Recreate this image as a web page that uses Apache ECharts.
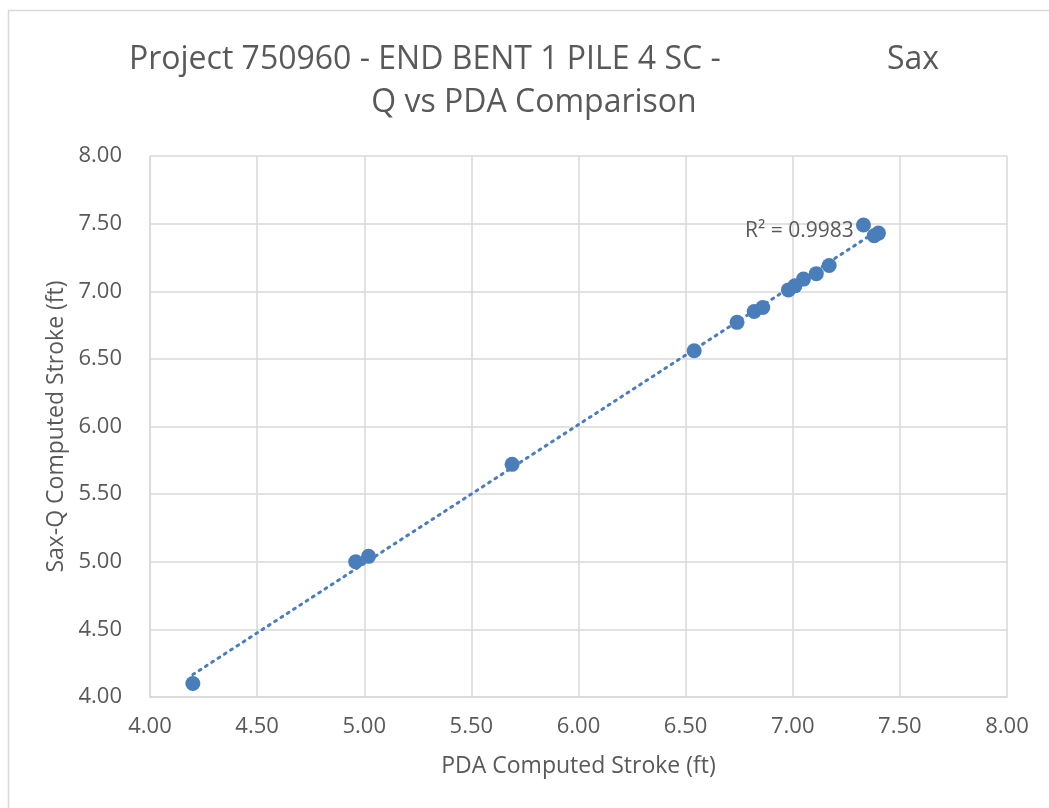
<!DOCTYPE html>
<html><head><meta charset="utf-8">
<script src="https://cdn.jsdelivr.net/npm/echarts@6/dist/echarts.min.js"></script>
<style>html,body{margin:0;padding:0;background:#fff}#c{width:1049px;height:808px}</style>
</head><body><div id="c"></div>
<script>
const pdaStroke = [4.20, 4.96, 5.02, 5.69, 6.54, 6.74, 6.82, 6.86, 6.98, 7.01, 7.05, 7.11, 7.17, 7.33, 7.38, 7.40];
const saxqStroke = [4.10, 5.00, 5.04, 5.72, 6.56, 6.77, 6.85, 6.88, 7.01, 7.04, 7.09, 7.13, 7.19, 7.49, 7.41, 7.43];
const axisTicks = ['4.00','4.50','5.00','5.50','6.00','6.50','7.00','7.50','8.00'];
const titleLine1 = 'Project 750960 - END BENT 1 PILE 4 SC -                    Sax';
const titleLine2 = 'Q vs PDA Comparison';
const r2Text = 'R² = 0.9983';

// linear least-squares trendline from the data
const n = pdaStroke.length;
let sx=0, sy=0, sxx=0, sxy=0;
for (let i=0;i<n;i++){ sx+=pdaStroke[i]; sy+=saxqStroke[i]; sxx+=pdaStroke[i]*pdaStroke[i]; sxy+=pdaStroke[i]*saxqStroke[i]; }
const slope = (n*sxy - sx*sy)/(n*sxx - sx*sx);
const icpt = (sy - slope*sx)/n;
const xmin = Math.min(...pdaStroke), xmax = Math.max(...pdaStroke);
const trend = [[xmin, slope*xmin+icpt],[xmax, slope*xmax+icpt]];

const FONT = '"Open Sans", sans-serif';
const chart = echarts.init(document.getElementById('c'));
const axisCommon = {
  type:'value', min:4, max:8, interval:0.5,
  axisLine:{show:true, lineStyle:{color:'#d9d9d9', width:1.5}},
  axisTick:{show:false},
  splitLine:{show:true, lineStyle:{color:'#d9d9d9', width:1.5}},
  axisLabel:{color:'#595959', fontSize:22, fontFamily:FONT, formatter:v=>axisTicks[Math.round((v-4)/0.5)]},
  nameTextStyle:{color:'#595959', fontSize:23, fontFamily:FONT},
  nameLocation:'middle'
};
chart.setOption({
  animation:false,
  backgroundColor:'#fff',
  title:{ text: titleLine1 + '\n' + titleLine2, left:529, textAlign:'center', top:33,
    textStyle:{ color:'#595959', fontSize:32, fontWeight:'normal', fontFamily:FONT, lineHeight:43 } },
  grid:{ left:150, right:42, top:156, bottom:111 },
  xAxis: Object.assign({}, axisCommon, { name:'PDA Computed Stroke (ft)', nameGap:58,
    axisLabel:Object.assign({}, axisCommon.axisLabel, {margin:19}) }),
  yAxis: Object.assign({}, axisCommon, { name:'Sax-Q Computed Stroke (ft)', nameGap:79,
    axisLabel:Object.assign({}, axisCommon.axisLabel, {margin:28}) }),
  graphic:[{ type:'rect', shape:{x:8.5, y:10.5, width:1200, height:1000}, silent:true,
    style:{fill:'none', stroke:'#d9d9d9', lineWidth:1.5} }],
  series:[
    { type:'line', data:trend, symbol:'none', silent:true,
      lineStyle:{color:'#4a7ebb', width:3, type:[2,5.5], cap:'round'}, z:1,
      markPoint:{ symbol:'circle', symbolSize:0, silent:true,
        data:[{ coord:[7.285, 7.445], value:r2Text,
          label:{ show:true, position:'left', distance:0, formatter:r2Text, color:'#595959', fontSize:21, fontFamily:FONT } }] } },
    { type:'scatter', data:pdaStroke.map((x,i)=>[x, saxqStroke[i]]), symbol:'circle', symbolSize:15,
      itemStyle:{color:'#4a7ebb', opacity:1}, z:3 }
  ]
});
</script></body></html>
